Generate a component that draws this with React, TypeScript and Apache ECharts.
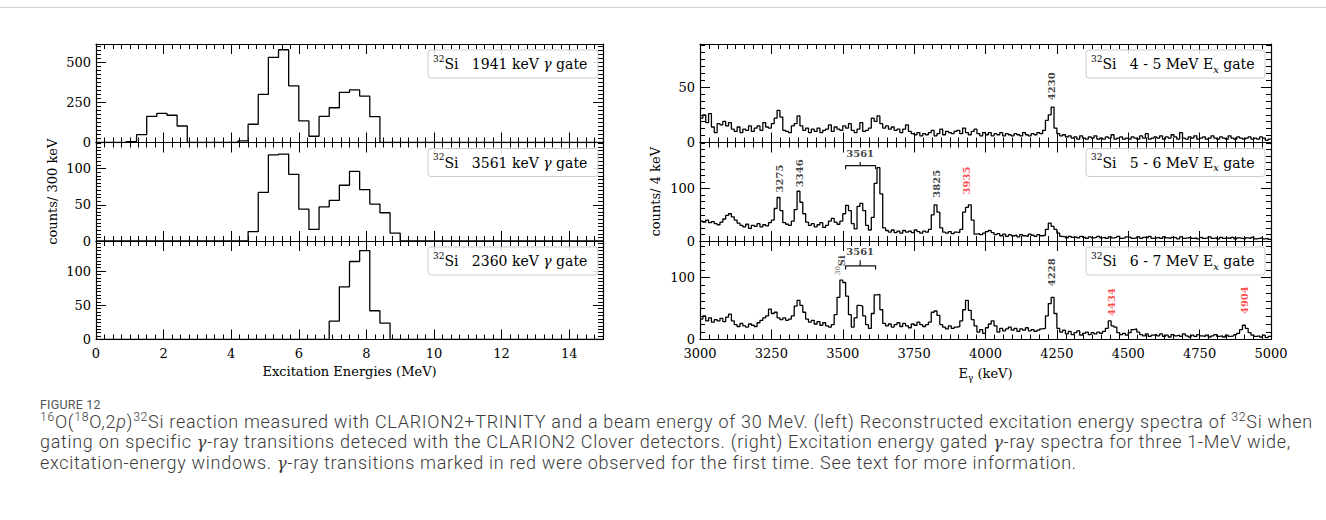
import React, { useEffect, useRef } from "react";
import * as echarts from "echarts";

const SERIF = "DejaVu Serif";
const RED = "#ff1a1a";

// ---------- Left: excitation-energy spectra (300 keV bins starting at 0 MeV) ----------
const exBinStart = 0;
const exBinWidth = 0.3;
const exBinCount = 50;
const exGate1941 = [0, 0, 0, 6, 49, 163, 182, 170, 103, 0, 0, 0, 0, 0, 10, 114, 300, 532, 579, 354, 135, 39, 163, 217, 313, 328, 290, 161];
const exGate3561 = [0, 0, 0, 0, 0, 0, 0, 0, 0, 0, 0, 0, 0, 0, 0, 13, 67, 119, 120, 92, 44, 16, 47, 56, 77, 96, 71, 51, 39, 11];
const exGate2360 = [0, 0, 0, 0, 0, 0, 0, 0, 0, 0, 0, 0, 0, 0, 0, 0, 0, 0, 0, 0, 0, 0, 0, 27, 77, 114, 130, 42, 24];
const exGateNames = ["1941", "3561", "2360"];
const exYMax = [615, 136, 144];
const exYStep = [250, 50, 50];
const exXRange = [0, 15, 2];

// ---------- Right: gamma-ray spectra (10 keV bins starting at 3000 keV) ----------
const egBinStart = 3000;
const egBinWidth = 10;
const egBinCount = 200;
const egGate45 = [
  22, 25, 18, 26, 14, 9, 17, 16, 19, 15,
  18, 12, 10, 14, 9, 12, 11, 15, 10, 13,
  15, 11, 18, 14, 13, 17, 22, 29, 23, 11,
  10, 9, 15, 17, 24, 15, 11, 13, 9, 12,
  10, 13, 9, 11, 12, 16, 10, 14, 12, 11,
  15, 13, 17, 11, 9, 12, 18, 10, 11, 13,
  22, 19, 24, 17, 13, 15, 12, 14, 11, 12,
  9, 12, 16, 10, 8, 7, 9, 6, 8, 7,
  9, 11, 6, 8, 12, 7, 10, 9, 8, 10,
  11, 8, 13, 9, 7, 10, 12, 8, 6, 9,
  7, 9, 6, 8, 7, 9, 6, 8, 7, 6,
  8, 7, 6, 9, 7, 6, 8, 7, 9, 8,
  11, 20, 25, 32, 13, 8, 6, 7, 5, 6,
  4, 5, 3, 6, 4, 3, 5, 4, 6, 3,
  4, 3, 5, 4, 7, 3, 4, 5, 3, 4,
  3, 5, 4, 3, 6, 4, 8, 3, 4, 5,
  4, 6, 3, 5, 4, 7, 5, 3, 9, 4,
  3, 5, 4, 6, 3, 4, 5, 3, 4, 6,
  4, 3, 5, 4, 3, 6, 4, 3, 5, 4,
  3, 4, 5, 3, 4, 3, 5, 4, 2, 3,
];
const egGate56 = [
  38, 36, 40, 35, 37, 33, 31, 36, 42, 49,
  52, 46, 40, 34, 30, 27, 32, 24, 30, 28,
  33, 27, 31, 29, 35, 40, 62, 83, 58, 35,
  32, 30, 38, 60, 95, 74, 52, 36, 30, 33,
  27, 31, 35, 26, 30, 38, 43, 36, 32, 38,
  52, 68, 58, 33, 23, 66, 72, 58, 30, 21,
  45, 110, 140, 90, 25, 20, 17, 21, 16, 19,
  15, 20, 17, 19, 16, 21, 18, 15, 19, 17,
  22, 50, 69, 55, 25, 17, 15, 18, 14, 17,
  16, 22, 55, 64, 69, 40, 13, 14, 12, 15,
  18, 20, 16, 12, 14, 10, 13, 9, 12, 10,
  11, 8, 12, 10, 9, 13, 11, 9, 12, 10,
  11, 22, 34, 28, 22, 15, 9, 8, 6, 9,
  7, 8, 6, 9, 7, 5, 8, 6, 7, 9,
  6, 7, 5, 8, 6, 7, 9, 5, 6, 8,
  7, 5, 6, 8, 5, 7, 6, 9, 5, 6,
  7, 5, 8, 6, 5, 7, 6, 4, 8, 5,
  6, 7, 5, 6, 4, 7, 5, 6, 8, 5,
  6, 4, 7, 5, 6, 5, 7, 4, 6, 5,
  4, 6, 5, 7, 4, 5, 6, 4, 5, 3,
];
const egGate67 = [
  33, 38, 30, 35, 28, 32, 30, 34, 29, 36,
  41, 30, 24, 21, 26, 22, 20, 25, 23, 21,
  27, 31, 35, 38, 49, 42, 44, 35, 32, 35,
  31, 33, 38, 54, 63, 55, 44, 33, 28, 31,
  25, 29, 23, 27, 22, 20, 24, 40, 68, 96,
  92, 70, 40, 20, 35, 55, 54, 38, 24, 18,
  42, 72, 73, 48, 26, 22, 25, 20, 24, 27,
  21, 26, 22, 19, 25, 23, 28, 24, 21, 24,
  28, 44, 46, 39, 24, 20, 17, 22, 18, 20,
  21, 30, 48, 63, 47, 32, 22, 12, 16, 10,
  19, 25, 30, 22, 12, 18, 14, 17, 20, 15,
  18, 13, 17, 15, 19, 14, 16, 13, 15, 17,
  18, 38, 58, 68, 42, 18, 12, 15, 9, 13,
  8, 11, 14, 7, 10, 12, 8, 11, 9, 12,
  10, 13, 18, 30, 22, 20, 11, 8, 10, 7,
  11, 16, 17, 12, 8, 6, 9, 5, 7, 8,
  6, 9, 5, 7, 4, 8, 6, 7, 5, 9,
  6, 4, 7, 5, 8, 6, 5, 7, 4, 6,
  8, 5, 6, 4, 7, 5, 6, 8, 10, 16,
  23, 18, 11, 7, 5, 6, 4, 7, 3, 5,
];
const egGateNames = ["4 - 5", "5 - 6", "6 - 7"];
const egYMax = [89, 188, 159];
const egYStep = [50, 100, 100];
const egXRange = [3000, 5000, 250];

// peak annotations: [x keV, y counts, text, newly observed (1) or not (0)]
const peaks45: any[] = [[4232, 36, "4230", 0]];
const peaks56: any[] = [[3277, 88, "3275", 0], [3347, 98, "3346", 0], [3827, 78, "3825", 0], [3935, 84, "3935", 1]];
const peaks67: any[] = [[4232, 82, "4228", 0], [4440, 34, "4434", 1], [4908, 37, "4904", 1]];
const si30Mark = [3494, 100];
// 3561 keV doublet brackets: [xLeft, xRight, xMid, yDrop, yBar, yTop]
const bracket56 = [3510, 3615, 3561, 137, 144, 151];
const bracket67 = [3510, 3615, 3561, 113, 119, 128];

// layout
const rowTops = [44, 142.5, 241];
const rowH = 98.5;
const leftPlot = [96, 507];
const rightPlot = [700, 571];

function histPoints(vals: number[], start: number, width: number, count: number, endValue?: number) {
  const pts: number[][] = [];
  for (let k = 0; k < count; k++) pts.push([+(start + k * width).toFixed(4), vals[k] ?? 0]);
  pts.push([+(start + count * width).toFixed(4), endValue ?? 0]);
  return pts;
}

const tickStyle = { color: "#000", width: 1 };
const labelText = { fontFamily: SERIF, fontSize: 13, color: "#000" };

function buildOption() {
  const grids: any[] = [];
  const xAxes: any[] = [];
  const yAxes: any[] = [];
  const series: any[] = [];
  const graphic: any[] = [];

  for (let p = 0; p < 6; p++) {
    const isLeft = p < 3;
    const row = p % 3;
    const [gx, gw] = isLeft ? leftPlot : rightPlot;
    grids.push({ left: gx, top: rowTops[row], width: gw, height: rowH, containLabel: false });
    const xr = isLeft ? exXRange : egXRange;
    const baseX = {
      gridIndex: p,
      type: "value",
      min: xr[0],
      max: xr[1],
      interval: xr[2],
      axisLine: { show: true, onZero: false, lineStyle: { color: "#000", width: 1.2 } },
      axisTick: { show: true, inside: true, length: 10, lineStyle: tickStyle },
      minorTick: { show: true, splitNumber: 8, length: 5, lineStyle: tickStyle },
      splitLine: { show: false },
      minorSplitLine: { show: false },
    };
    const bottomName =
      row === 2 ? (isLeft ? "Excitation Energies (MeV)" : "{a|E}{b|γ}{a| (keV)}") : "";
    xAxes.push({
      ...baseX,
      position: "bottom",
      axisLabel: {
        show: row === 2,
        ...labelText,
        margin: 7,
        showMaxLabel: !isLeft,
        formatter: (v: number) => String(v),
      },
      name: bottomName,
      nameLocation: "middle",
      nameGap: 25,
      nameTextStyle: {
        ...labelText,
        rich: {
          a: { fontFamily: SERIF, fontSize: 13, color: "#000", lineHeight: 18 },
          b: { fontFamily: SERIF, fontSize: 9, color: "#000", lineHeight: 9, verticalAlign: "bottom" },
        },
      },
    });
    xAxes.push({ ...baseX, position: "top", axisLabel: { show: false } });

    const yMax = isLeft ? exYMax[row] : egYMax[row];
    const yStep = isLeft ? exYStep[row] : egYStep[row];
    const baseY = {
      gridIndex: p,
      type: "value",
      min: 0,
      max: yMax,
      interval: yStep,
      axisLine: { show: true, onZero: false, lineStyle: { color: "#000", width: 1.2 } },
      axisTick: { show: true, inside: true, length: 10, lineStyle: tickStyle },
      minorTick: { show: true, splitNumber: isLeft ? 10 : 8, length: 5, lineStyle: tickStyle },
      splitLine: { show: false },
      minorSplitLine: { show: false },
    };
    yAxes.push({
      ...baseY,
      position: "left",
      axisLabel: { ...labelText, margin: 5, showMaxLabel: false, formatter: (v: number) => String(v) },
      name: row === 1 ? (isLeft ? "counts/ 300 keV" : "counts/ 4 keV") : "",
      nameLocation: "middle",
      nameGap: isLeft ? 37 : 38,
      nameTextStyle: { ...labelText },
    });
    yAxes.push({ ...baseY, position: "right", axisLabel: { show: false } });

    // histogram
    let pts: number[][];
    if (isLeft) {
      const vals = [exGate1941, exGate3561, exGate2360][row];
      pts = histPoints(vals, exBinStart, exBinWidth, exBinCount, 0);
    } else {
      const vals = [egGate45, egGate56, egGate67][row];
      pts = histPoints(vals, egBinStart, egBinWidth, egBinCount, vals[vals.length - 1]);
    }
    series.push({
      type: "line",
      xAxisIndex: 2 * p,
      yAxisIndex: 2 * p,
      data: pts,
      step: "end",
      symbol: "none",
      silent: true,
      lineStyle: { color: "#000", width: 1.3 },
      z: 3,
    });

    // legend box
    const bx = isLeft ? 428 : 1086;
    const bw = isLeft ? 170 : 179;
    const by = rowTops[row] + 6;
    const bh = 28;
    const txt = isLeft
      ? `{sup|32}{n|Si   ${exGateNames[row]} keV }{it|γ}{n| gate}`
      : `{sup|32}{n|Si   ${egGateNames[row]} MeV E}{sub|x}{n| gate}`;
    graphic.push({
      type: "rect",
      shape: { x: bx, y: by, width: bw, height: bh, r: 3 },
      style: { fill: "rgba(255,255,255,0.85)", stroke: "#cccccc", lineWidth: 1 },
      z: 10,
    });
    graphic.push({
      type: "text",
      x: bx + 5,
      y: by + bh / 2,
      z: 11,
      style: {
        text: txt,
        align: "left",
        verticalAlign: "middle",
        fill: "#000",
        rich: {
          sup: { fontFamily: SERIF, fontSize: 9, lineHeight: 10, verticalAlign: "top", fill: "#000" },
          n: { fontFamily: SERIF, fontSize: 14, lineHeight: 20, fill: "#000" },
          it: { fontFamily: SERIF, fontSize: 14, lineHeight: 20, fontStyle: "italic", fill: "#000" },
          sub: { fontFamily: SERIF, fontSize: 10, lineHeight: 10, fontStyle: "italic", verticalAlign: "bottom", fill: "#000" },
        },
      },
    });
  }

  const peakSeries = (p: number, list: any[]) => ({
    type: "scatter",
    xAxisIndex: 2 * p,
    yAxisIndex: 2 * p,
    symbolSize: 1,
    itemStyle: { color: "rgba(0,0,0,0)" },
    silent: true,
    z: 6,
    data: list.map(([x, y, t, isNew]) => ({ value: [x, y], name: t, label: { color: isNew ? RED : "#111" } })),
    label: {
      show: true,
      formatter: "{b}",
      position: "top",
      distance: 2,
      rotate: 90,
      align: "left",
      verticalAlign: "middle",
      fontFamily: SERIF,
      fontWeight: "bold",
      fontSize: 10,
    },
  });
  series.push(peakSeries(3, peaks45));
  series.push(peakSeries(4, peaks56));
  series.push(peakSeries(5, peaks67));

  // 30Si mark
  series.push({
    type: "scatter",
    xAxisIndex: 10,
    yAxisIndex: 10,
    symbolSize: 1,
    itemStyle: { color: "rgba(0,0,0,0)" },
    silent: true,
    z: 6,
    data: [{ value: si30Mark, name: "30Si" }],
    label: {
      show: true,
      formatter: "{s|30}{m|Si}",
      position: "top",
      distance: 2,
      rotate: 90,
      align: "left",
      verticalAlign: "middle",
      rich: {
        s: { fontFamily: SERIF, fontSize: 7, color: "#111", lineHeight: 8, verticalAlign: "top" },
        m: { fontFamily: SERIF, fontSize: 10, color: "#111", lineHeight: 13, fontWeight: "bold" },
      },
    },
  });

  // brackets for the 3561 keV doublet
  const bracketSeries = (p: number, b: number[]) => {
    const [xl, xr, xm, yd, yb, yt] = b;
    return [
      {
        type: "line", xAxisIndex: 2 * p, yAxisIndex: 2 * p, symbol: "none", silent: true, z: 6,
        lineStyle: { color: "#111", width: 1.2 },
        data: [[xl, yd], [xl, yb], [xr, yb], [xr, yd]],
      },
      {
        type: "line", xAxisIndex: 2 * p, yAxisIndex: 2 * p, symbol: "none", silent: true, z: 6,
        lineStyle: { color: "#111", width: 1.2 },
        data: [[xm, yb], [xm, yt]],
      },
      {
        type: "scatter", xAxisIndex: 2 * p, yAxisIndex: 2 * p, symbolSize: 1, silent: true, z: 6,
        itemStyle: { color: "rgba(0,0,0,0)" },
        data: [{ value: [xm, yt], name: "3561" }],
        label: {
          show: true, formatter: "{b}", position: "top", distance: 3,
          fontFamily: SERIF, fontWeight: "bold", fontSize: 10, color: "#111",
        },
      },
    ];
  };
  series.push(...bracketSeries(4, bracket56));
  series.push(...bracketSeries(5, bracket67));

  graphic.push({
    type: "line",
    shape: { x1: 0, y1: 7.5, x2: 1326, y2: 7.5 },
    style: { stroke: "#d4d4d4", lineWidth: 1 },
  });

  return {
    animation: false,
    backgroundColor: "#ffffff",
    grid: grids,
    xAxis: xAxes,
    yAxis: yAxes,
    series,
    graphic,
  };
}

const capSup: React.CSSProperties = { fontSize: "0.68em", verticalAlign: "super", lineHeight: 0 };
const capGamma: React.CSSProperties = { fontFamily: "DejaVu Serif", fontStyle: "italic", fontSize: "0.9em" };

export default function App() {
  const ref = useRef<HTMLDivElement>(null);
  useEffect(() => {
    if (!ref.current) return;
    const chart = echarts.init(ref.current, null, { renderer: "svg" });
    chart.setOption(buildOption() as any);
    return () => chart.dispose();
  }, []);
  return (
    <div style={{ position: "absolute", left: 0, top: 0, width: 1326, height: 520, background: "#fff", overflow: "hidden" }}>
      <div ref={ref} style={{ position: "absolute", left: 0, top: 0, width: 1326, height: 520 }} />
      <div style={{ position: "absolute", left: 40, top: 398, fontFamily: "Roboto, 'Noto Sans', sans-serif", color: "#3a3a3a", whiteSpace: "nowrap" }}>
        <div style={{ fontSize: 12.5, lineHeight: "14px", color: "#555", letterSpacing: 0.2 }}>FIGURE 12</div>
        <div style={{ fontSize: 18, lineHeight: "20px", fontWeight: 300, letterSpacing: 0.7 }}>
          <span style={capSup}>16</span>O(<span style={capSup}>18</span>O,2<i>p</i>)<span style={capSup}>32</span>Si reaction measured with CLARION2+TRINITY and a beam energy of 30 MeV. (left) Reconstructed excitation energy spectra of <span style={capSup}>32</span>Si when
          <br />
          gating on specific <span style={capGamma}>γ</span>-ray transitions deteced with the CLARION2 Clover detectors. (right) Excitation energy gated <span style={capGamma}>γ</span>-ray spectra for three 1-MeV wide,
          <br />
          excitation-energy windows. <span style={capGamma}>γ</span>-ray transitions marked in red were observed for the first time. See text for more information.
        </div>
      </div>
    </div>
  );
}
